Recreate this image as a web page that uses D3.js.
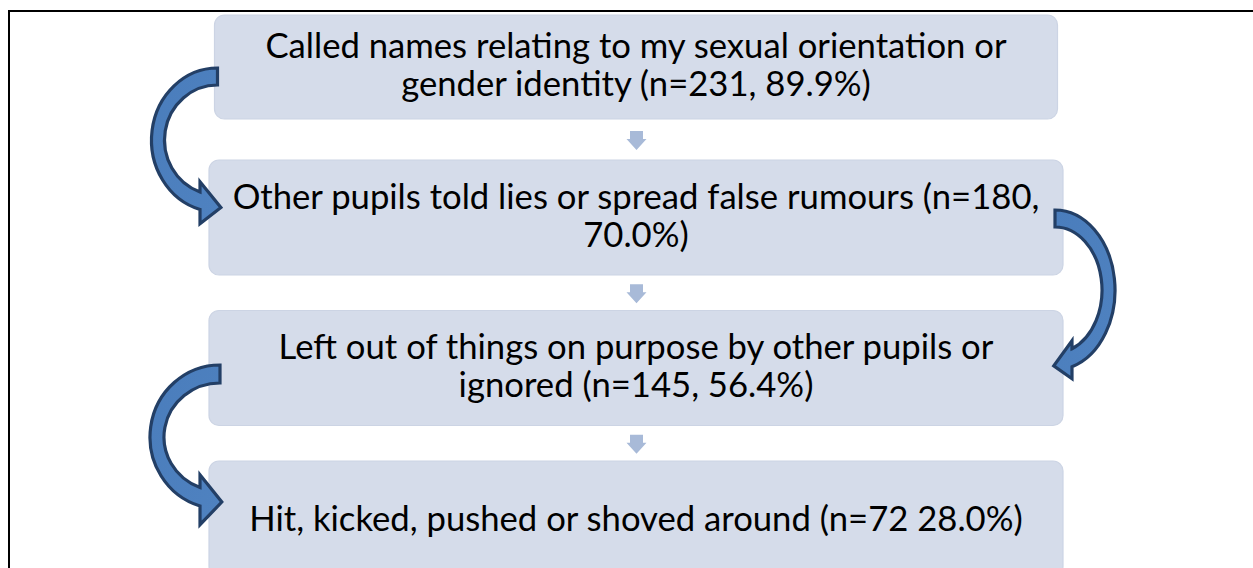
<!DOCTYPE html>
<html>
<head>
<meta charset="utf-8">
<script src="https://cdn.jsdelivr.net/npm/d3@7/dist/d3.min.js"></script>
<style>
  html, body { margin: 0; padding: 0; background: #fff; }
  svg { display: block; }
</style>
</head>
<body>
<svg id="chart" width="1253" height="568"></svg>
<script>
// ---------------- data ----------------
const categories = [
  "Called names relating to my sexual orientation or gender identity",
  "Other pupils told lies or spread false rumours",
  "Left out of things on purpose by other pupils or ignored",
  "Hit, kicked, pushed or shoved around"
];
const counts = [231, 180, 145, 72];
const percents = [89.9, 70.0, 56.4, 28.0];
const separators = [", ", ", ", ", ", " "];

const labels = categories.map((c, i) =>
  `${c} (n=${counts[i]}${separators[i]}${percents[i].toFixed(1)}%)`);

// ---------------- layout ----------------
const W = 1253, H = 568;
const svg = d3.select("#chart");

const step = 150.5, pad = 35.5 / 150.5;
const y = d3.scaleBand()
  .domain(d3.range(categories.length))
  .range([9.5, 9.5 + step * (categories.length - pad)])
  .paddingInner(pad)
  .paddingOuter(0);
const x = d3.scaleLinear().domain([0, 1]).range([209, 1063]);
const firstInset = 5.5;

function boxRect(i) {
  const inset = i === 0 ? firstInset : 0;
  return {
    x0: x(0) + inset, x1: x(1) - inset,
    y0: y(i) + inset, y1: y(i) + y.bandwidth() - inset
  };
}

// frame
svg.append("path")
  .attr("d", `M9,${H} V11 H${W}`)
  .attr("fill", "none")
  .attr("stroke", "#000")
  .attr("stroke-width", 2);

// boxes
const boxes = svg.append("g").selectAll("g.box")
  .data(labels)
  .join("g").attr("class", "box");

boxes.append("rect")
  .attr("x", (d, i) => boxRect(i).x0)
  .attr("y", (d, i) => boxRect(i).y0)
  .attr("width", (d, i) => boxRect(i).x1 - boxRect(i).x0)
  .attr("height", (d, i) => boxRect(i).y1 - boxRect(i).y0)
  .attr("rx", 10).attr("ry", 10)
  .attr("fill", "#D5DCEA")
  .attr("stroke", "#CCD4E4")
  .attr("stroke-width", 1.2);

// font fitting (Calibri-like metrics)
const fontFamily = "Lato, 'Open Sans', sans-serif";
const probe = svg.append("text").attr("font-family", fontFamily).attr("font-size", 30)
  .text("Other pupils told lies or spread false rumours (n=180,");
const probeW = probe.node().getComputedTextLength();
probe.remove();
const fs = 30 * 807 / probeW;
const lineH = 38;
const maxW = 818;

function measure(str) {
  const t = svg.append("text").attr("font-family", fontFamily).attr("font-size", fs).text(str);
  const w = t.node().getComputedTextLength();
  t.remove();
  return w;
}
function wrap(str) {
  const words = str.split(" ");
  const lines = [];
  let cur = "";
  words.forEach(w => {
    const test = cur ? cur + " " + w : w;
    if (cur && measure(test) > maxW) { lines.push(cur); cur = w; }
    else cur = test;
  });
  if (cur) lines.push(cur);
  return lines;
}

boxes.each(function(d, i) {
  const r = boxRect(i);
  const cx = (r.x0 + r.x1) / 2, cy = (r.y0 + r.y1) / 2;
  const lines = wrap(d);
  const shift = lines.length > 1 ? -1.5 : 1;
  lines.forEach((ln, k) => {
    d3.select(this).append("text")
      .attr("font-family", fontFamily)
      .attr("font-size", fs)
      .attr("fill", "#000")
      .attr("text-anchor", "middle")
      .attr("x", cx)
      .attr("y", cy + shift + (k - (lines.length - 1) / 2) * lineH + 0.34 * fs)
      .text(ln);
  });
});

// small down arrows between boxes
const midX = (x(0) + x(1)) / 2 + 0.5;
for (let i = 0; i < categories.length - 1; i++) {
  const gTop = boxRect(i).y1, gBot = boxRect(i + 1).y0;
  const gc = (gTop + gBot) / 2 + 1;
  const h = 19, sw = 6.5, hw = 10, hh = 11;
  const top = gc - h / 2, bot = gc + h / 2;
  const p = d3.path();
  p.moveTo(midX - sw, top);
  p.lineTo(midX + sw, top);
  p.lineTo(midX + sw, bot - hh);
  p.lineTo(midX + hw, bot - hh);
  p.lineTo(midX, bot);
  p.lineTo(midX - hw, bot - hh);
  p.lineTo(midX - sw, bot - hh);
  p.closePath();
  svg.append("path").attr("d", p.toString()).attr("fill", "#A8BAD8");
}

// curved connector arrows
const defs = svg.append("defs");
const grad = defs.append("linearGradient").attr("id", "arrowGrad")
  .attr("x1", "0").attr("y1", "0").attr("x2", "1").attr("y2", "1");
grad.append("stop").attr("offset", "0%").attr("stop-color", "#4A7DBC");
grad.append("stop").attr("offset", "100%").attr("stop-color", "#4F82C0");

function curvedArrow(o) {
  const side = o.side; // -1 left, +1 right
  const cx = o.xTail, cy = o.cy;
  const ryO = cy - o.yTop, ryI = cy - (o.yTop + o.thick);
  const u = side * (o.xHead - cx);
  const sinO = Math.sqrt(Math.max(0, 1 - (u / o.rxO) ** 2));
  const sinI = Math.sqrt(Math.max(0, 1 - (u / o.rxI) ** 2));
  const Po = [o.xHead, cy + ryO * sinO];
  const Pi = [o.xHead, cy + ryI * sinI];
  const my = (Po[1] + Pi[1]) / 2;
  const rxM = (o.rxO + o.rxI) / 2, ryM = (ryO + ryI) / 2;
  const cosM = u / rxM, sinM = Math.sqrt(Math.max(0, 1 - cosM * cosM));
  let tx = -side * rxM * sinM, ty = ryM * cosM;
  const tl = Math.hypot(tx, ty); tx /= tl; ty /= tl;
  const tip = [o.xHead + tx * o.headLen, my + ty * o.headLen + o.tipDy];
  const sweepO = side === 1 ? 1 : 0;
  const d = `M${cx},${o.yTop}` +
    ` A${o.rxO},${ryO} 0 0 ${sweepO} ${Po[0]},${Po[1]}` +
    ` L${o.xHead},${my + o.headHalf + o.barbDy}` +
    ` L${tip[0]},${tip[1]}` +
    ` L${o.xHead},${my - o.headHalf + o.barbDy}` +
    ` L${Pi[0]},${Pi[1]}` +
    ` A${o.rxI},${ryI} 0 0 ${1 - sweepO} ${cx},${o.yTop + o.thick}` +
    ` Z`;
  svg.append("path").attr("d", d)
    .attr("fill", "url(#arrowGrad)")
    .attr("stroke", "#233F66")
    .attr("stroke-width", 3.2)
    .attr("stroke-linejoin", "miter");
}

const b = d3.range(4).map(boxRect);
const mid = r => (r.y0 + r.y1) / 2;
curvedArrow({ side: -1, xTail: b[0].x0 + 3, yTop: mid(b[0]) + 1, thick: 17,
  cy: mid(b[0]) + 73, rxO: 66, rxI: 53, xHead: b[1].x0 - 9,
  headHalf: 21, headLen: 22, tipDy: 0, barbDy: 2 });
curvedArrow({ side: 1, xTail: b[1].x1 - 8, yTop: mid(b[1]) - 7.5, thick: 17,
  cy: mid(b[1]) + 72.5, rxO: 60, rxI: 47, xHead: b[2].x1 + 9,
  headHalf: 19, headLen: 20, tipDy: 0, barbDy: 2 });
curvedArrow({ side: -1, xTail: b[2].x0 + 11, yTop: mid(b[2]) - 3, thick: 18,
  cy: mid(b[2]) + 69, rxO: 70, rxI: 56, xHead: b[3].x0 - 9,
  headHalf: 25, headLen: 23, tipDy: -2, barbDy: 3 });
</script>
</body>
</html>
